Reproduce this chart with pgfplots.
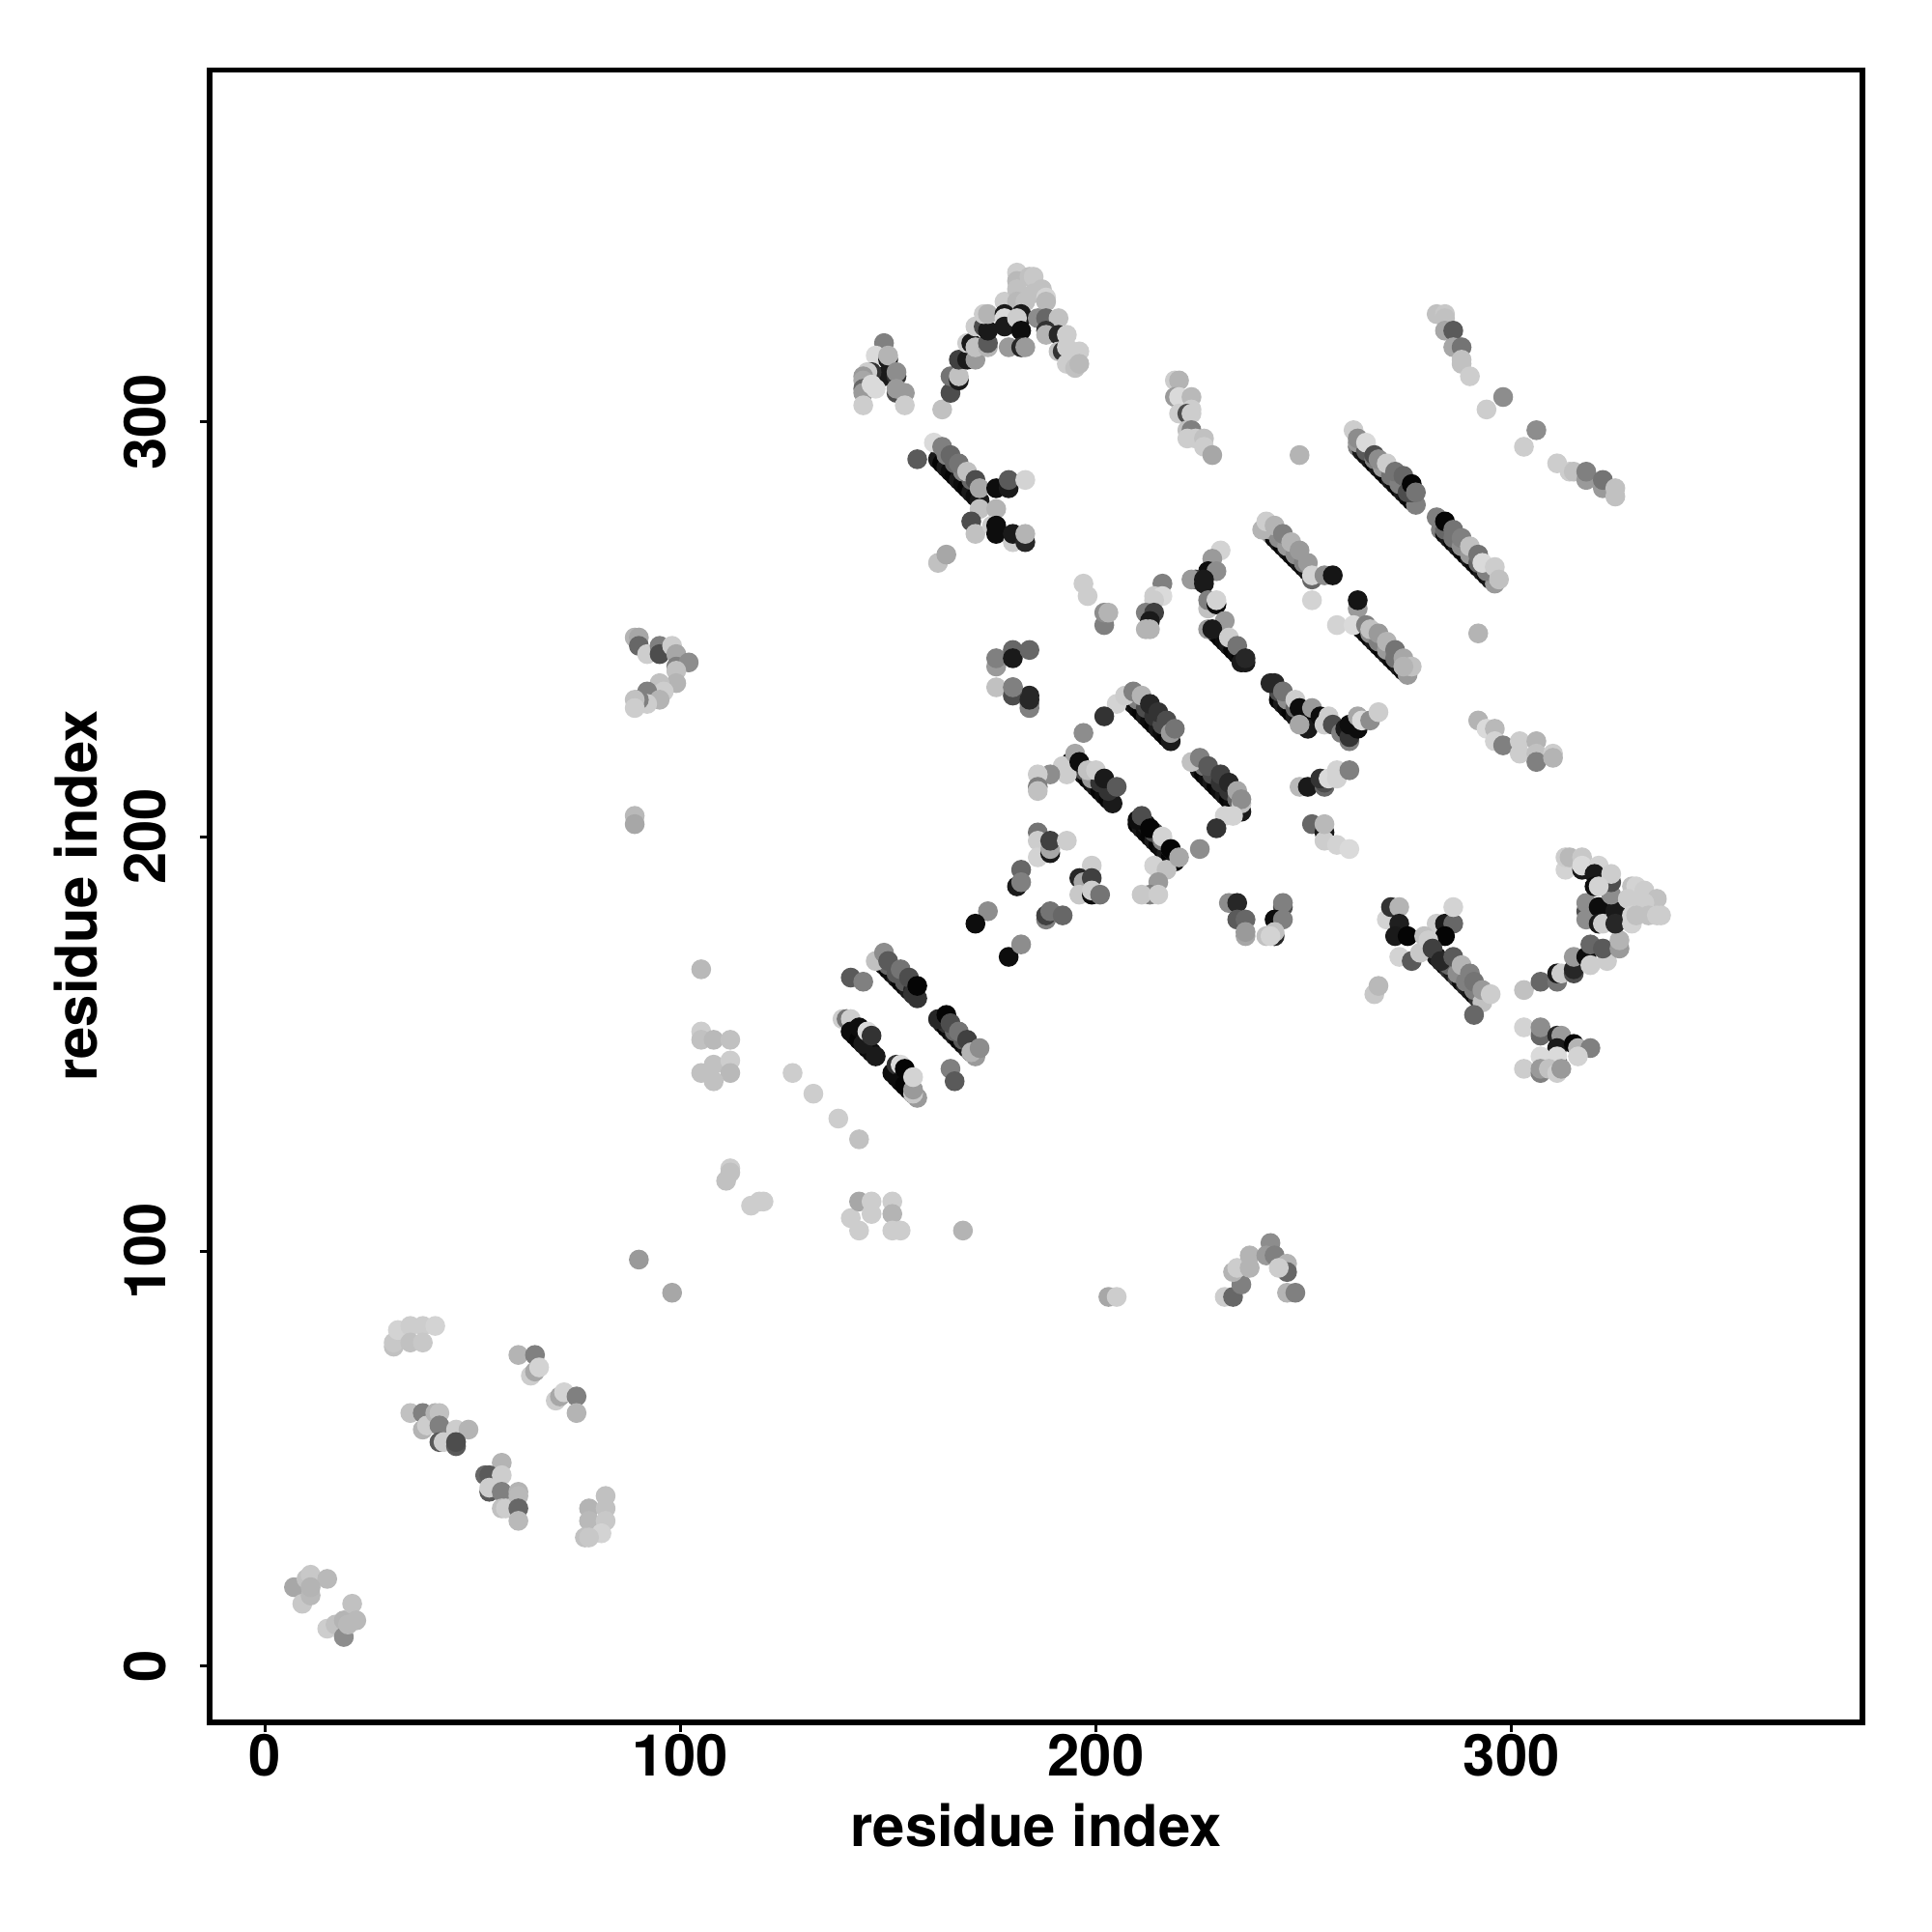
\documentclass[border=0pt]{standalone}
\usepackage{fontspec}
\setmainfont{TeX Gyre Heros}
\usepackage{pgfplots}
\usepackage{pgfplotstable}
\pgfplotsset{compat=1.18}
\pgfplotstableread{
x y g
263 294 .5
264 293 .1
265 292 .05
266 291 .1
267 290 .02
268 289 .1
269 288 .05
270 287 .02
271 286 .1
272 285 .05
273 284 .02
274 283 .1
275 282 .05
276 281 .02
277 280 .5
242 273 .6
243 272 .05
244 271 .1
245 270 .02
246 269 .1
247 268 .05
248 267 .02
249 266 .1
250 265 .05
251 264 .1
252 262 .4
264 250 .1
265 249 .05
266 248 .02
267 247 .1
268 246 .05
269 245 .02
270 244 .1
271 243 .05
272 242 .02
273 241 .1
274 240 .05
275 239 .6
283 274 .5
284 273 .05
285 272 .1
286 271 .02
287 270 .1
288 269 .05
289 268 .02
290 267 .1
291 266 .05
292 265 .02
293 264 .1
294 263 .05
295 262 .1
296 261 .6
209 232 .1
210 231 .05
211 230 .02
212 229 .1
213 228 .05
214 227 .02
215 226 .1
216 225 .05
217 224 .02
218 223 .1
194 218 .1
195 217 .02
196 216 .05
197 215 .1
198 214 .02
199 213 .05
200 212 .1
201 211 .02
202 210 .05
203 209 .02
204 208 .1
225 216 .1
226 215 .02
227 214 .05
228 213 .1
229 212 .02
230 211 .05
231 210 .1
232 209 .02
233 208 .05
234 207 .02
235 206 .1
210 203 .02
211 202 .1
212 201 .05
213 200 .02
214 199 .1
215 198 .02
216 197 .05
217 196 .1
218 195 .02
219 194 .05
229 249 .1
230 248 .02
231 247 .05
232 246 .1
233 245 .02
234 244 .05
235 243 .02
236 242 .1
244 233 .02
245 232 .1
246 231 .05
247 230 .02
248 229 .1
249 228 .05
250 227 .02
251 226 .1
149 169 .1
150 168 .02
151 167 .05
152 166 .1
153 165 .02
154 164 .05
155 163 .1
156 162 .02
157 161 .2
141 153 .1
142 152 .02
143 151 .05
144 150 .1
145 149 .02
146 148 .05
147 147 .1
163 155 .1
164 154 .02
165 153 .05
166 152 .1
167 151 .02
168 150 .05
169 149 .1
170 148 .02
171 147 .6
152 142 .05
153 141 .02
154 140 .1
155 139 .02
156 138 .05
157 137 .6
282 171 .1
283 170 .15
284 169 .05
285 168 .2
286 167 .1
287 166 .25
288 165 .05
289 164 .15
290 163 .1
291 162 .05
292 161 .2
162 291 .1
163 290 .02
164 289 .1
165 288 .05
166 287 .02
167 286 .1
168 285 .05
169 284 .02
170 283 .1
171 282 .05
172 281 .1
263 295 .6
265 293 .35
267 291 .5
269 289 .6
271 287 .45
273 285 .5
275 283 .3
276 283 .3
242 274 .65
244 272 .55
246 270 .6
248 268 .55
250 266 .5
266 249 .55
268 247 .5
270 245 .6
272 243 .45
274 241 .6
284 274 .4
286 272 .45
288 270 .55
290 268 .6
292 266 .4
294 264 .5
210 233 .5
212 231 .3
214 229 .2
216 227 .3
218 225 .4
195 218 .3
197 216 .3
199 214 .6
201 213 .2
203 211 .2
226 217 .45
228 215 .3
230 213 .2
232 211 .2
234 209 .4
212 203 .1
214 201 .3
216 199 .5
218 197 .3
244 235 .3
246 233 .55
248 231 .4
150 169 .4
152 167 .35
154 165 .35
156 163 .15
164 155 .2
166 153 .4
168 151 .35
170 149 .3
142 154 .4
144 152 .2
285 169 .4
287 167 .55
289 165 .5
291 163 .5
164 292 .5
166 290 .4
168 288 .5
170 286 .4
7 19 .65
10 21 .75
11 22 .78
15 21 .72
9 15 .78
11 17 .72
11 19 .7
15 9 .8
17 10 .75
19 11 .7
19 7 .55
20 10 .72
21 15 .75
22 11 .72
31 77 .75
31 78 .78
32 81 .82
35 82 .8
38 82 .8
41 82 .82
35 78 .75
38 78 .78
35 61 .75
38 61 .5
38 57 .7
39 58 .8
41 61 .7
42 61 .75
42 58 .5
42 54 .35
43 54 .8
46 57 .8
49 57 .7
46 53 .35
46 54 .3
57 49 .7
53 46 .4
54 46 .35
57 46 .8
54 42 .35
54 43 .8
57 42 .5
57 38 .75
58 38 .8
61 42 .7
61 41 .72
61 38 .4
61 35 .72
61 75 .7
65 75 .5
64 70 .8
65 71 .65
66 72 .82
70 64 .8
71 65 .65
72 66 .82
75 65 .5
75 61 .7
78 38 .7
78 35 .72
82 41 .75
82 38 .75
82 35 .78
81 32 .82
77 31 .75
78 31 .78
90 98 .6
98 90 .65
89 205 .72
89 203 .65
105 168 .72
105 153 .8
105 151 .75
105 143 .75
108 151 .72
112 151 .75
108 145 .75
112 146 .8
112 143 .72
108 141 .75
127 143 .8
132 138 .8
138 132 .8
143 127 .75
112 120 .8
112 119 .75
111 117 .75
117 111 .8
119 112 .8
120 112 .8
141 108 .8
143 112 .65
146 112 .8
146 109 .8
143 105 .8
151 112 .8
151 109 .7
151 105 .8
153 105 .8
168 105 .7
203 89 .65
205 89 .8
231 89 .8
233 89 .4
235 92 .5
233 95 .7
234 96 .8
237 96 .7
237 99 .7
242 102 .55
241 99 .6
243 99 .5
246 97 .7
246 95 .4
244 96 .8
246 90 .7
248 90 .5
89 248 .7
90 248 .65
90 246 .4
92 244 .8
95 246 .5
95 244 .3
98 246 .8
99 244 .65
99 241 .5
102 242 .55
99 240 .75
99 237 .7
95 237 .75
96 235 .8
92 235 .5
95 233 .7
92 232 .8
90 233 .5
89 233 .75
89 231 .8
149 319 .5
147 316 .85
150 315 .1
150 316 .7
149 311 .1
152 311 .2
152 312 .55
146 312 .2
145 312 .8
144 311 .6
144 310 .65
144 308 .4
144 307 .6
144 304 .8
146 309 .85
147 308 .85
152 307 .3
152 308 .6
154 307 .6
154 304 .8
163 303 .75
165 307 .3
165 311 .45
167 310 .1
167 311 .75
167 315 .25
169 315 .1
171 315 .6
169 319 .8
170 319 .1
171 318 .75
174 318 .7
174 319 .35
171 323 .8
173 323 .3
174 322 .1
173 326 .8
174 326 .7
178 329 .8
181 336 .8
181 334 .72
181 332 .75
181 329 .72
184 335 .75
185 335 .78
185 331 .75
183 329 .75
187 332 .75
188 330 .82
188 329 .72
178 326 .1
178 325 .85
178 323 .1
179 318 .6
182 326 .1
182 325 .1
181 325 .8
182 322 .05
182 318 .15
183 318 .6
186 325 .55
188 325 .4
191 325 .75
188 322 .2
188 321 .7
191 321 .15
193 321 .8
191 317 .75
192 317 .2
193 318 .8
196 317 .8
193 314 .8
195 313 .75
196 314 .72
157 291 .35
161 295 .85
163 294 .5
165 292 .4
167 290 .45
169 288 .75
171 286 .3
172 284 .65
176 284 .05
179 284 .1
179 286 .35
183 286 .82
172 279 .75
176 279 .7
170 276 .3
171 273 .75
175 275 .8
176 273 .05
176 275 .05
180 271 .8
180 273 .1
183 271 .15
183 273 .7
162 266 .75
164 268 .65
219 310 .8
220 310 .7
219 306 .6
220 306 .85
223 306 .72
223 303 .8
220 302 .8
222 302 .3
223 302 .8
222 298 .75
223 298 .5
222 296 .8
224 296 .8
226 296 .75
226 294 .8
228 292 .65
249 292 .7
262 298 .8
263 296 .55
265 295 .85
267 292 .3
268 291 .55
270 290 .8
272 288 .45
274 287 .4
276 285 .02
277 283 .45
240 274 .7
241 276 .8
243 275 .7
245 273 .5
247 271 .7
249 269 .6
251 266 .6
252 263 .82
255 263 .55
257 263 .08
252 257 .82
258 251 .82
292 249 .7
263 255 .6
263 257 .08
262 251 .85
265 251 .5
266 250 .75
268 249 .6
270 247 .7
272 245 .45
274 243 .65
276 241 .75
274 241 .7
282 277 .5
284 276 .02
286 274 .45
288 272 .5
290 270 .75
292 268 .45
293 266 .85
296 265 .8
297 262 .75
282 326 .75
284 326 .78
284 325 .75
284 322 .65
286 322 .35
286 318 .65
288 318 .45
288 315 .75
288 314 .75
290 311 .8
298 306 .55
294 303 .8
306 298 .55
303 294 .8
311 290 .8
314 288 .8
315 288 .75
318 286 .6
318 288 .5
322 284 .6
322 286 .45
325 282 .75
325 284 .75
184 232 .55
184 234 .15
180 236 .4
176 241 .6
176 243 .5
180 245 .4
180 243 .1
184 245 .4
176 236 .75
180 234 .3
180 236 .5
184 231 .5
184 233 .15
205 232 .82
207 234 .8
209 235 .5
211 234 .7
213 232 .15
215 230 .2
217 228 .3
218 225 .6
219 226 .45
202 229 .2
197 225 .55
192 217 .8
193 215 .8
195 220 .65
196 218 .05
198 216 .75
200 216 .8
202 214 .1
205 212 .35
189 215 .55
186 215 .8
186 212 .5
186 211 .75
223 218 .75
225 219 .5
227 217 .35
230 215 .25
232 213 .15
234 211 .65
235 208 .75
235 209 .55
231 205 .82
233 205 .82
229 202 .2
225 197 .55
210 204 .05
211 205 .3
213 202 .02
216 200 .82
218 197 .02
214 193 .82
217 192 .75
220 195 .65
215 189 .6
213 186 .5
211 186 .78
215 186 .8
186 201 .45
186 199 .8
186 195 .82
189 196 .1
189 197 .65
189 199 .25
193 199 .8
182 192 .4
181 188 .1
182 189 .5
199 193 .8
196 190 .15
197 189 .65
199 190 .25
196 186 .78
199 186 .05
199 187 .8
201 186 .45
188 180 .5
188 181 .25
189 182 .45
192 181 .4
174 182 .55
171 179 .05
179 171 .05
182 174 .55
232 184 .55
234 184 .15
234 180 .35
236 180 .4
236 176 .65
236 177 .6
245 183 .3
245 184 .5
243 180 .05
245 180 .5
241 176 .75
243 176 .15
243 177 .75
242 176 .82
230 269 .82
228 267 .6
227 264 .05
229 264 .55
224 262 .25
223 262 .6
226 262 .1
226 261 .1
227 255 .75
227 257 .5
229 256 .05
229 257 .82
231 252 .6
227 250 .6
228 250 .1
232 248 .8
234 246 .45
235 242 .1
236 243 .15
216 261 .5
214 258 .8
216 258 .85
214 257 .8
212 254 .5
214 254 .25
213 252 .1
212 250 .7
213 250 .7
197 261 .8
198 258 .8
202 251 .5
202 254 .55
203 254 .7
242 237 .15
243 237 .15
245 235 .45
248 233 .8
249 231 .05
249 227 .65
252 231 .6
254 229 .05
255 227 .8
256 229 .8
257 227 .3
259 225 .5
260 226 .1
261 223 .5
261 224 .2
261 227 .05
263 226 .05
263 229 .65
264 228 .85
266 228 .55
268 230 .8
249 212 .72
251 212 .1
255 212 .4
255 213 .3
254 214 .2
256 214 .85
258 214 .82
258 216 .82
261 216 .5
252 203 .4
255 201 .1
255 199 .8
255 203 .72
258 198 .82
261 197 .85
292 228 .7
294 226 .85
296 226 .72
296 223 .82
298 222 .5
302 223 .8
302 220 .8
306 223 .7
306 220 .75
306 218 .5
310 220 .8
310 219 .7
141 166 .35
144 165 .5
147 170 .75
149 172 .55
150 170 .35
153 168 .45
155 166 .3
156 162 .2
157 164 .02
139 156 .8
140 156 .45
141 156 .8
141 153 .05
143 151 .02
143 154 .05
144 150 .1
145 153 .85
146 152 .2
162 156 .15
164 157 .02
165 155 .3
167 153 .45
169 151 .25
170 148 .7
172 149 .55
151 143 .05
152 145 .2
153 141 .05
153 145 .85
154 140 .02
154 144 .02
156 138 .78
156 139 .6
156 142 .82
165 144 .5
166 141 .35
270 180 .82
271 183 .2
273 183 .7
273 179 .12
272 176 .1
275 176 .02
273 171 .82
276 170 .35
282 179 .8
284 179 .1
286 179 .4
286 183 .82
284 176 .02
279 176 .75
278 172 .78
280 175 .8
281 173 .25
283 170 .15
286 171 .35
288 169 .7
290 167 .5
291 165 .45
293 160 .75
293 163 .6
295 162 .8
291 157 .4
267 162 .78
268 164 .72
303 163 .75
307 165 .4
311 165 .45
311 167 .1
312 167 .8
315 167 .3
315 168 .15
315 171 .6
318 171 .05
319 169 .8
319 174 .4
323 170 .8
322 173 .35
326 173 .6
326 175 .7
318 182 .3
318 184 .55
318 180 .55
321 183 .05
321 179 .1
322 179 .8
325 182 .1
325 179 .15
329 179 .82
324 186 .55
324 189 .3
313 192 .82
313 195 .8
314 195 .72
317 195 .78
317 192 .1
317 193 .85
321 193 .82
320 191 .1
324 191 .8
320 188 .05
321 188 .82
329 188 .75
330 188 .82
332 187 .8
335 185 .75
328 185 .8
332 184 .8
329 181 .82
330 181 .75
333 181 .75
335 181 .8
336 181 .8
303 154 .82
307 152 .4
307 154 .55
311 152 .15
312 152 .6
311 149 .1
315 150 .02
316 149 .7
319 149 .5
316 147 .82
311 146 .15
311 147 .85
307 147 .85
303 144 .8
307 143 .5
307 144 .6
309 144 .75
311 143 .8
312 144 .6
}\pts
\begin{document}
\begin{tikzpicture}
\path[use as bounding box] (-2.168,-2.17) rectangle (17.832,17.83);
\begin{axis}[
  at={(0,0)}, anchor=south west,
  scale only axis, width=17.113cm, height=17.107cm,
  xmin=-13.35, xmax=384.5, ymin=-13.6, ymax=384.9,
  axis line style={line width=0.055cm},
  tick style={line width=0.03cm, black},
  tick align=outside,
  major tick length=0.1cm,
  xtick={0,100,200,300}, ytick={0,100,200,300},
  xticklabels={0,100,200,300}, yticklabels={0,100,200,300},
  xtick pos=bottom, ytick pos=left,
  ticklabel style={font=\fontsize{17}{19}\selectfont\bfseries},
  xticklabel style={yshift=0.1cm},
  yticklabel style={rotate=90, anchor=south, yshift=0.22cm},
  label style={font=\fontsize{17}{19}\selectfont\bfseries},
  xlabel={residue index}, ylabel={residue index},
  xlabel style={at={(axis description cs:0.5,-0.0625)}, anchor=center},
  ylabel style={at={(axis description cs:-0.081,0.5)}, anchor=center, rotate=0},
  colormap={bwg}{gray(0cm)=(0); gray(1cm)=(1)},
  point meta min=0, point meta max=1,
]
\addplot[scatter, only marks, mark=*, mark size=2.72pt,
  scatter/use mapped color={draw=mapped color, fill=mapped color},
  point meta=explicit] table[x=x, y=y, meta=g] {\pts};
\end{axis}
\end{tikzpicture}
\end{document}
